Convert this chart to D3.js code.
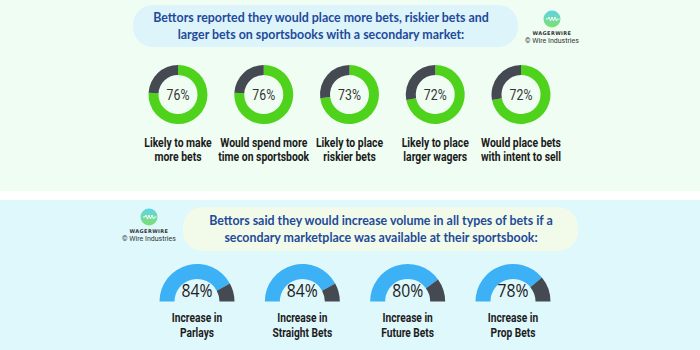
<!DOCTYPE html>
<html><head><meta charset="utf-8">
<script src="https://cdn.jsdelivr.net/npm/d3@7/dist/d3.min.js"></script>
<style>html,body{margin:0;padding:0;background:#fff;}svg{display:block;}</style>
</head><body>
<svg id="c" width="700" height="350"></svg>
<script>
const topTitle = ["Bettors reported they would place more bets, riskier bets and", "larger bets on sportsbooks with a secondary market:"];
const topLabels = [["Likely to make","more bets"],["Would spend more","time on sportsbook"],["Likely to place","riskier bets"],["Likely to place","larger wagers"],["Would place bets","with intent to sell"]];
const topValues = [76, 76, 73, 72, 72];
const bottomTitle = ["Bettors said they would increase volume in all types of bets if a", "secondary marketplace was available at their sportsbook:"];
const bottomLabels = [["Increase in","Parlays"],["Increase in","Straight Bets"],["Increase in","Future Bets"],["Increase in","Prop Bets"]];
const bottomValues = [84, 84, 80, 78];

const svg = d3.select("#c");
const defs = svg.append("defs");
const lg = defs.append("linearGradient").attr("id","lg").attr("x1",0).attr("y1",0).attr("x2",0).attr("y2",1);
lg.append("stop").attr("offset","0%").attr("stop-color","#5fd3e8");
lg.append("stop").attr("offset","100%").attr("stop-color","#7ee06a");

// backgrounds
svg.append("rect").attr("x",0).attr("y",0).attr("width",700).attr("height",191).attr("fill","#f0fdf3");
svg.append("rect").attr("x",0).attr("y",191).attr("width",700).attr("height",9).attr("fill","#ffffff");
svg.append("rect").attr("x",0).attr("y",200).attr("width",700).attr("height",150).attr("fill","#dff8fc");

// title pills
svg.append("rect").attr("x",133).attr("y",5).attr("width",385).attr("height",42).attr("rx",20).attr("fill","#dcf4fa");
svg.append("rect").attr("x",183).attr("y",207).attr("width",395).attr("height",44).attr("rx",20).attr("fill","#f2fbe9");

function titleText(lines, cx, y0, dy) {
  const t = svg.append("g");
  lines.forEach((s,i)=>{
    t.append("text").attr("x",cx).attr("y",y0+i*dy).attr("text-anchor","middle")
      .attr("font-family","Lato, 'Open Sans', sans-serif").attr("font-weight",700).attr("font-size",12.4)
      .attr("fill","#1f4a9a").text(s);
  });
}
titleText(topTitle, 321, 22, 16.5);
titleText(bottomTitle, 381, 225, 17);

function logo(cx, cy) {
  const g = svg.append("g");
  g.append("circle").attr("cx",cx).attr("cy",cy).attr("r",8.5).attr("fill","url(#lg)");
  g.append("path").attr("d",`M${cx-6},${cy} l2,0 l1,-2 l1.5,4 l1.5,-4 l1.5,4 l1.5,-4 l1.5,4 l1,-2 l2,0`)
    .attr("fill","none").attr("stroke","#fff").attr("stroke-width",0.9);
  g.append("text").attr("x",cx).attr("y",cy+15.5).attr("text-anchor","middle").attr("font-family","'DejaVu Sans', sans-serif")
    .attr("font-weight",700).attr("font-size",5).attr("fill","#333").attr("letter-spacing",0.4).text("WAGERWIRE");
  g.append("text").attr("x",cx).attr("y",cy+23.5).attr("text-anchor","middle").attr("font-family","Roboto, sans-serif")
    .attr("font-size",7).attr("fill","#333").text("© Wire Industries");
}
logo(552, 19);
logo(149, 217);

// top donuts
const xTop = d3.scalePoint().domain(d3.range(topValues.length)).range([178, 521]);
const pieFull = d3.pie().sort(null).value(d=>d).startAngle(0).endAngle(2*Math.PI);
const arcTop = d3.arc().innerRadius(19.5).outerRadius(29.5);
const cyTop = 94.5;
const topColors = ["#4fd21b", "#454a52"];
topValues.forEach((v,i)=>{
  const g = svg.append("g").attr("transform",`translate(${xTop(i)},${cyTop})`);
  g.selectAll("path").data(pieFull([v, 100-v])).join("path").attr("d",arcTop).attr("fill",(d,j)=>topColors[j]);
  g.append("text").attr("y",5).attr("text-anchor","middle").attr("transform","scale(0.82,1)")
    .attr("font-family","Roboto, sans-serif").attr("font-size",15).attr("fill","#333").text(v+"%");
  topLabels[i].forEach((s,k)=>{
    g.append("text").attr("y",52.5+k*14.5).attr("text-anchor","middle").attr("transform","scale(0.8,1)")
      .attr("font-family","Roboto, sans-serif").attr("font-weight",700)
      .attr("font-size",13).attr("fill","#1a1a1a").text(s);
  });
});

// bottom gauges
const xBot = d3.scalePoint().domain(d3.range(bottomValues.length)).range([197, 513]);
const pieHalf = d3.pie().sort(null).value(d=>d).startAngle(-Math.PI/2).endAngle(Math.PI/2);
const arcBot = d3.arc().innerRadius(22.5).outerRadius(37.5);
const cyBot = 301.5;
const botColors = ["#3db1f5", "#454a52"];
bottomValues.forEach((v,i)=>{
  const g = svg.append("g").attr("transform",`translate(${xBot(i)},${cyBot})`);
  g.selectAll("path").data(pieHalf([v, 100-v])).join("path").attr("d",arcBot).attr("fill",(d,j)=>botColors[j]);
  g.append("text").attr("y",-4.5).attr("text-anchor","middle").attr("transform","scale(0.9,1)")
    .attr("font-family","'Open Sans', sans-serif").attr("font-size",17.5).attr("fill","#222").text(v+"%");
  bottomLabels[i].forEach((s,k)=>{
    g.append("text").attr("y",20.5+k*15).attr("text-anchor","middle").attr("transform","scale(0.85,1)")
      .attr("font-family","Roboto, sans-serif").attr("font-weight",700)
      .attr("font-size",12).attr("fill","#1c1c1c").text(s);
  });
});
</script>
</body></html>
